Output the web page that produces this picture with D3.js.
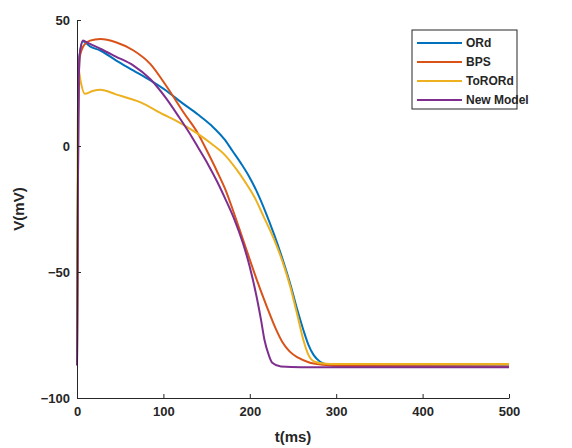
<!DOCTYPE html>
<html>
<head>
<meta charset="utf-8">
<title>Action potential</title>
<script src="https://cdn.jsdelivr.net/npm/d3@7"></script>
<style>
  body { margin: 0; background: #fff; }
  svg text { font-family: "Liberation Sans", Arial, Helvetica, sans-serif; font-weight: bold; fill: #262626; }
</style>
</head>
<body>
<div id="chart"></div>
<script>
// series names and colours (MATLAB defaults)
var seriesNames = ["ORd", "BPS", "ToRORd", "New Model"];
var seriesColors = ["#0072BD", "#D95319", "#EDB120", "#7E2F8E"];

// ORd
var tOrd = [0, 1.5, 3, 7, 15, 27, 45, 65, 85, 103, 120, 140, 156, 171, 180, 190, 199, 208, 218, 228, 238, 247, 255, 262, 268, 274, 281, 290, 305, 330, 500];
var vOrd = [-87, 10, 36, 41.6, 39.5, 37.9, 34, 30, 26, 22, 17.5, 12.5, 8, 2.5, -2, -7, -12, -18, -26, -35, -45, -55, -65, -73, -79, -83, -85.5, -86.7, -87.2, -87.4, -87.5];
// BPS
var tBps = [0, 1.5, 3, 8, 15, 27, 45, 65, 85, 103, 124, 140, 152, 162, 172, 180, 192, 208, 220, 230, 238, 246, 256, 268, 285, 310, 500];
var vBps = [-87, 10, 35, 40, 41.8, 42.5, 41.2, 38, 32.5, 24, 13, 5, -3, -10, -17.5, -25, -37, -53, -64, -72.5, -78, -81.5, -84, -85.8, -86.8, -87.3, -87.5];
// ToRORd
var tTor = [0, 0.8, 1.5, 4, 9, 18, 27, 45, 73, 100, 115, 140, 156, 171, 184, 196, 205, 216, 228, 238, 247, 255, 262, 268, 275, 285, 300, 500];
var vTor = [-87, 0, 31, 26, 20.7, 21.8, 22.3, 20.5, 17.4, 12.5, 10, 4.8, 0.8, -3.5, -9, -15, -20, -28, -37, -46, -56, -67, -77, -83, -85.6, -86.3, -86.5, -86.5];
// New Model
var tNew = [0, 1.5, 3, 7, 12, 27, 45, 65, 85, 103, 118, 134, 140, 152, 162, 171, 182, 192, 200, 208, 213, 217, 222, 226, 236, 260, 500];
var vNew = [-87, 10, 36, 41.9, 41, 38.6, 35.5, 32, 26.5, 19, 11.5, 3, -0.5, -7.5, -14, -20.5, -29, -38.5, -48, -60, -69, -77, -83, -86, -87.5, -87.8, -87.8];

var xTicks = [0, 100, 200, 300, 400, 500];
var yTicks = [-100, -50, 0, 50];

var width = 572, height = 448;
var margin = {left: 77, right: 63, top: 20, bottom: 50};

var svg = d3.select("#chart").append("svg")
  .attr("width", width)
  .attr("height", height);

var x = d3.scaleLinear().domain([0, 500]).range([margin.left, width - margin.right]);
var y = d3.scaleLinear().domain([-100, 50]).range([height - margin.bottom, margin.top]);

var series = [
  {t: tOrd, v: vOrd},
  {t: tBps, v: vBps},
  {t: tTor, v: vTor},
  {t: tNew, v: vNew}
];

var line = d3.line()
  .x(function(d) { return x(d[0]); })
  .y(function(d) { return y(d[1]); })
  .curve(d3.curveMonotoneX);

series.forEach(function(s, i) {
  svg.append("path")
    .datum(d3.zip(s.t, s.v))
    .attr("fill", "none")
    .attr("stroke", seriesColors[i])
    .attr("stroke-width", 2)
    .attr("d", line);
});

// axes, ticks pointing inward like matlab
var xAxis = svg.append("g")
  .attr("transform", "translate(0," + y(-100) + ")")
  .call(d3.axisBottom(x).tickValues(xTicks).tickSizeInner(-4).tickSizeOuter(0).tickPadding(9));
var yAxis = svg.append("g")
  .attr("transform", "translate(" + x(0) + ",0)")
  .call(d3.axisLeft(y).tickValues(yTicks).tickSizeInner(-4).tickSizeOuter(0).tickPadding(7));

[xAxis, yAxis].forEach(function(g) {
  g.select(".domain").attr("stroke", "#262626").attr("stroke-width", 1);
  g.selectAll(".tick line").attr("stroke", "#262626");
  g.selectAll(".tick text").attr("font-size", 13).style("font-family", "Liberation Sans, Arial, sans-serif").attr("fill", "#262626");
});

svg.append("text")
  .attr("x", x(250)).attr("y", 442)
  .attr("text-anchor", "middle")
  .attr("font-size", 15)
  .text("t(ms)");

svg.append("text")
  .attr("transform", "translate(24," + y(-25) + ") rotate(-90)")
  .attr("text-anchor", "middle")
  .attr("font-size", 15)
  .text("V(mV)");

// legend
var legend = svg.append("g").attr("transform", "translate(412,30)");
legend.append("rect")
  .attr("width", 105).attr("height", 79)
  .attr("fill", "#fff")
  .attr("stroke", "#262626")
  .attr("stroke-width", 1);

var items = legend.selectAll("g.item").data(seriesNames).enter().append("g")
  .attr("class", "item")
  .attr("transform", function(d, i) { return "translate(0," + (13 + i * 19) + ")"; });
items.append("line")
  .attr("x1", 5).attr("x2", 50)
  .attr("stroke", function(d, i) { return seriesColors[i]; })
  .attr("stroke-width", 2);
items.append("text")
  .attr("x", 54).attr("dy", "0.35em")
  .attr("font-size", 12)
  .text(function(d) { return d; });
</script>
</body>
</html>
